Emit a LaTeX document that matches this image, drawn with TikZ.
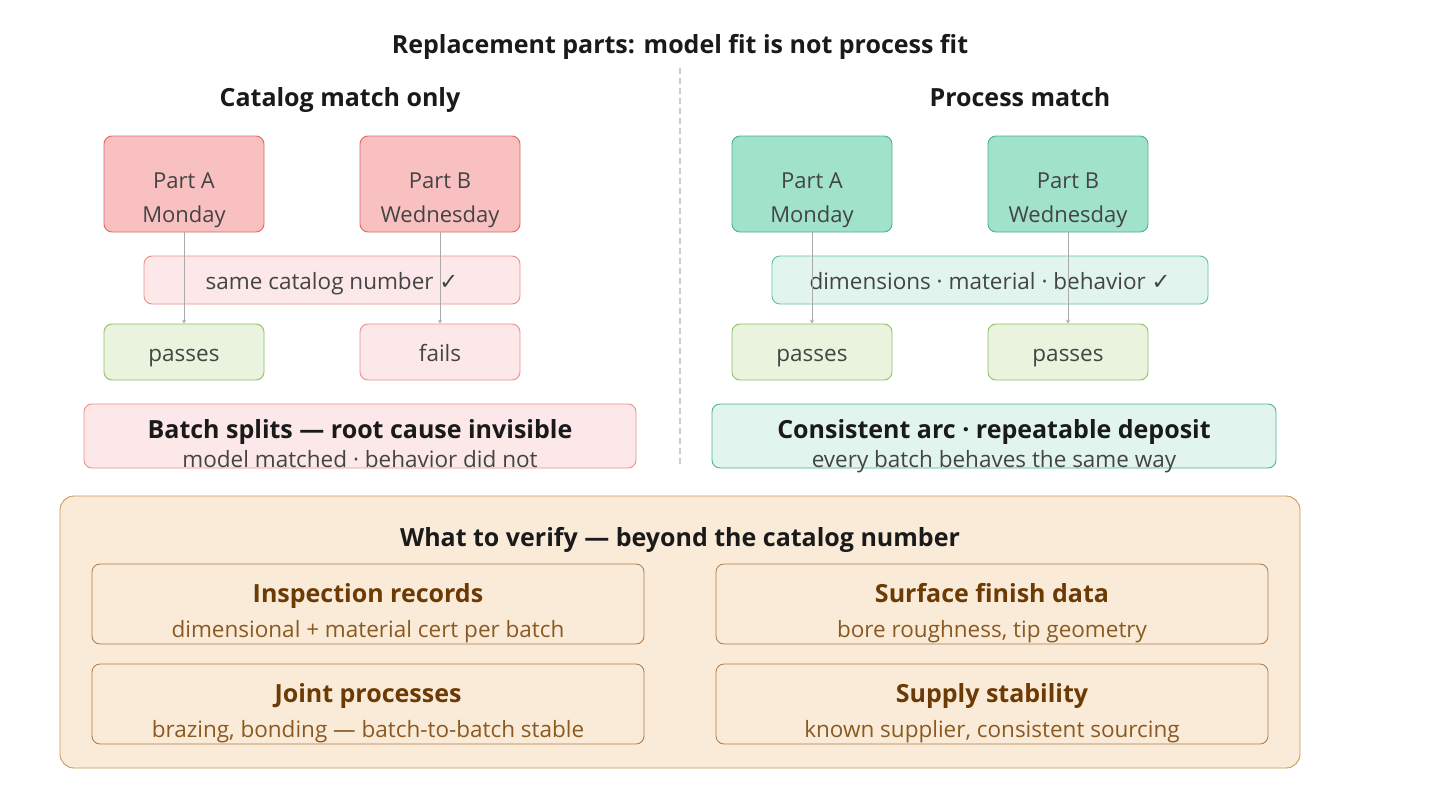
\documentclass[tikz,border=0pt]{standalone}
\usepackage{fontspec}
\setmainfont{Open Sans}
\newfontfamily\symf{DejaVu Sans}
\usetikzlibrary{arrows.meta}
\definecolor{txt}{HTML}{444444}
\definecolor{dark}{HTML}{1A1A1A}
\definecolor{redfill}{HTML}{F8C0C0}
\definecolor{redline}{HTML}{E06868}
\definecolor{pinkfill}{HTML}{FCE8E8}
\definecolor{pinkline}{HTML}{EE8E8E}
\definecolor{grnfill}{HTML}{A0E2CA}
\definecolor{grnline}{HTML}{4DB38E}
\definecolor{mintfill}{HTML}{E1F5EE}
\definecolor{mintline}{HTML}{5FC2A0}
\definecolor{passfill}{HTML}{E9F3DD}
\definecolor{passline}{HTML}{8CC063}
\definecolor{tanfill}{HTML}{FAEBD8}
\definecolor{tanline}{HTML}{C99A5E}
\definecolor{cardline}{HTML}{A8784A}
\definecolor{browntitle}{HTML}{6B3A05}
\definecolor{brownsub}{HTML}{8A5A22}
\definecolor{arrowc}{HTML}{AAAAAA}
\definecolor{divc}{HTML}{CCCCCC}
\tikzset{
  box/.style={draw, rounded corners=8pt, line width=0.9pt, inner sep=0pt},
  partred/.style={box, fill=redfill, draw=redline, minimum width=160pt, minimum height=96pt},
  partgrn/.style={box, fill=grnfill, draw=grnline, minimum width=160pt, minimum height=96pt},
  resbox/.style={box, minimum width=160pt, minimum height=56pt},
  lbl/.style={inner sep=0pt, text height=12pt, text depth=0pt},
  parttext/.style={text=txt, font=\fontsize{22}{34}\selectfont, align=center, inner sep=0pt},
  smalltext/.style={lbl, text=txt, font=\fontsize{22.5}{24}\selectfont},
  head/.style={lbl, text=dark, font=\fontsize{25}{28}\selectfont\bfseries},
  bigtitle/.style={lbl, text=dark, font=\fontsize{25}{28}\selectfont\bfseries},
  subtext/.style={lbl, text=txt, font=\fontsize{22.5}{24}\selectfont},
  cardtitle/.style={lbl, text=browntitle, font=\fontsize{25}{28}\selectfont\bfseries},
  cardsub/.style={lbl, text=brownsub, font=\fontsize{22.5}{24}\selectfont},
  card/.style={box, fill=tanfill, draw=cardline, line width=0.8pt, minimum width=552pt, minimum height=80pt},
  flow/.style={draw=arrowc, line width=1pt, -{Stealth[length=4pt,width=4pt]}}
}
\begin{document}
\begin{tikzpicture}[x=1pt,y=-1pt]
\useasboundingbox (0,0) rectangle (1440,800);
\fill[white] (0,0) rectangle (1440,800);

\node[head] (title) at (680,47) {Replacement parts: model fit is not process fit};
\coordinate (dtop) at (680,68);
\coordinate (dbot) at (680,468);
\draw[divc, line width=1.2pt, dash pattern=on 6pt off 4pt] (dtop) -- (dbot);

\node[head] (hl) at (340,100) {Catalog match only};
\node[head] (hr) at (1020,100) {Process match};

% left column
\node[partred] (la) at (184,184) {};
\node[parttext] (lat) at (184,200) {Part A\\Monday};
\node[partred] (lb) at (440,184) {};
\node[parttext] (lbt) at (440,200) {Part B\\Wednesday};
\node[box, fill=pinkfill, draw=pinkline, minimum width=376pt, minimum height=48pt] (lbar) at (332,280) {};
\node[smalltext] (lbart) at (332,283) {same catalog number {\symf ✓}};
\node[resbox, fill=passfill, draw=passline] (lp) at (184,352) {};
\node[smalltext] (lpt) at (184,355) {passes};
\node[resbox, fill=pinkfill, draw=pinkline] (lf) at (440,352) {};
\node[smalltext] (lft) at (440,355) {fails};
\draw[flow] (la.south) -- (lp.north);
\draw[flow] (lb.south) -- (lf.north);
\node[box, fill=pinkfill, draw=pinkline, minimum width=552pt, minimum height=64pt] (lsum) at (360,436) {};
\node[bigtitle] (lsumt) at (360,432) {Batch splits — root cause invisible};
\node[subtext] (lsums) at (360,461) {model matched · behavior did not};

% right column
\node[partgrn] (ra) at (812,184) {};
\node[parttext] (rat) at (812,200) {Part A\\Monday};
\node[partgrn] (rb) at (1068,184) {};
\node[parttext] (rbt) at (1068,200) {Part B\\Wednesday};
\node[box, fill=mintfill, draw=mintline, minimum width=436pt, minimum height=48pt] (rbar) at (990,280) {};
\node[smalltext] (rbart) at (990,283) {dimensions · material · behavior {\symf ✓}};
\node[resbox, fill=passfill, draw=passline] (rp1) at (812,352) {};
\node[smalltext] (rp1t) at (812,355) {passes};
\node[resbox, fill=passfill, draw=passline] (rp2) at (1068,352) {};
\node[smalltext] (rp2t) at (1068,355) {passes};
\draw[flow] (ra.south) -- (rp1.north);
\draw[flow] (rb.south) -- (rp2.north);
\node[box, fill=mintfill, draw=grnline, minimum width=564pt, minimum height=64pt] (rsum) at (994,436) {};
\node[bigtitle] (rsumt) at (994,432) {Consistent arc · repeatable deposit};
\node[subtext] (rsums) at (994,461) {every batch behaves the same way};

% bottom panel
\node[box, fill=tanfill, draw=tanline, rounded corners=14pt, minimum width=1240pt, minimum height=272pt] (panel) at (680,632) {};
\node[head] (pt) at (680,540) {What to verify — beyond the catalog number};

\node[card] (c1) at (368,604) {};
\node[cardtitle] (c1t) at (368,596) {Inspection records};
\node[cardsub] (c1s) at (368,631) {dimensional + material cert per batch};
\node[card] (c2) at (992,604) {};
\node[cardtitle] (c2t) at (992,596) {Surface finish data};
\node[cardsub] (c2s) at (992,631) {bore roughness, tip geometry};
\node[card] (c3) at (368,704) {};
\node[cardtitle] (c3t) at (368,696) {Joint processes};
\node[cardsub] (c3s) at (368,731) {brazing, bonding — batch-to-batch stable};
\node[card] (c4) at (992,704) {};
\node[cardtitle] (c4t) at (992,696) {Supply stability};
\node[cardsub] (c4s) at (992,731) {known supplier, consistent sourcing};
\end{tikzpicture}
\end{document}
